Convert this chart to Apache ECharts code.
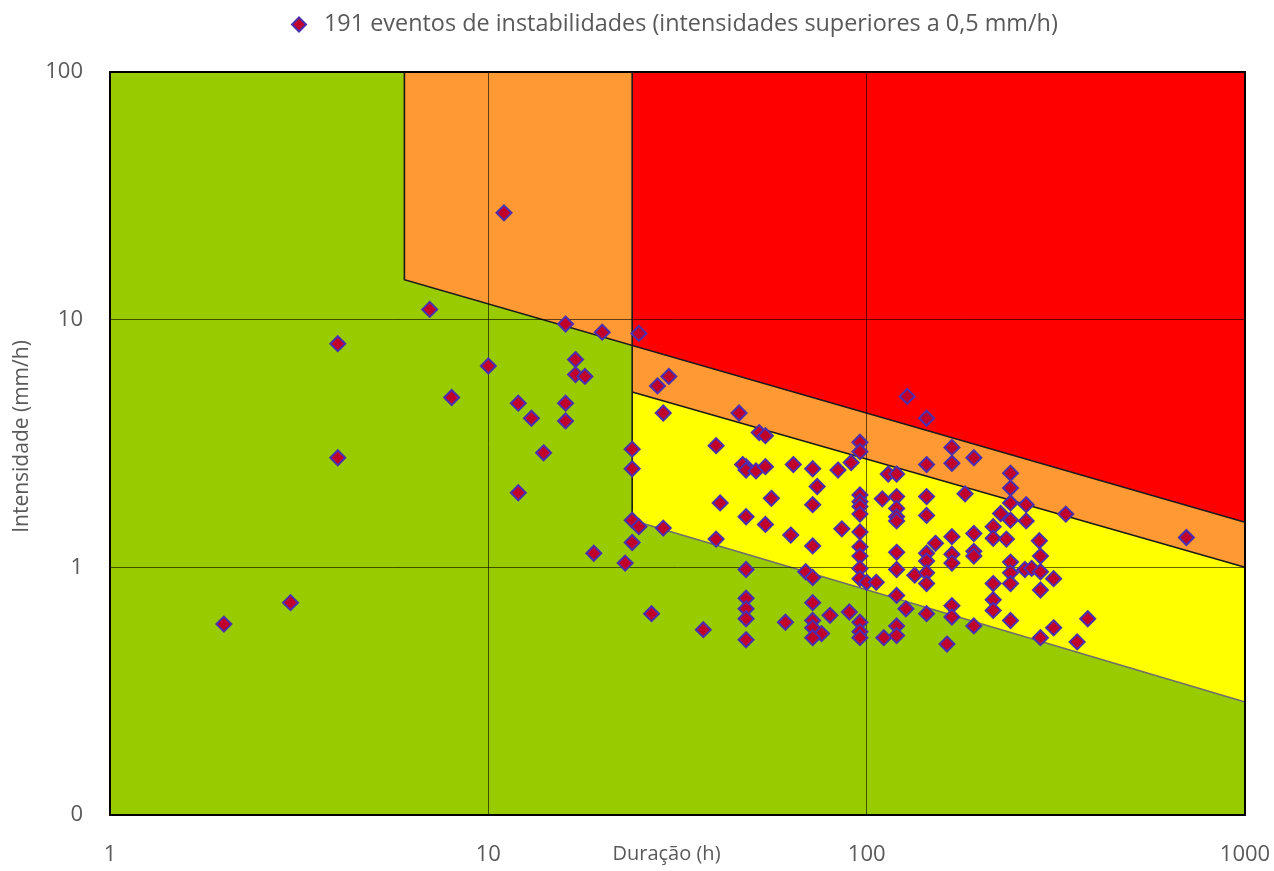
<!DOCTYPE html>
<html>
<head>
<meta charset="utf-8">
<script src="https://cdn.jsdelivr.net/npm/echarts@6/dist/echarts.min.js"></script>
<style>
html,body{margin:0;padding:0;background:#fff;}
#chart{width:1274px;height:871px;}
</style>
</head>
<body>
<div id="chart"></div>
<script>
// ---- Data ----
const seriesName = '191 eventos de instabilidades (intensidades superiores a 0,5 mm/h)';
const xAxisName = 'Duração (h)';
const yAxisName = 'Intensidade (mm/h)';
const xTickValues = [1, 10, 100, 1000];
const xTickLabels = ['1', '10', '100', '1000'];
const yTickValues = [0.1, 1, 10, 100];
const yTickLabels = ['0', '1', '10', '100'];

// duration (h)
const eventDuration = [
  2, 3, 4, 4, 7, 8, 10, 11, 16, 20, 25, 17, 17, 18, 12, 16, 13, 16, 14, 12,
  24, 24, 30, 28, 29, 24, 25, 29, 24, 19, 23, 41, 40, 27, 37, 46, 52, 54, 40, 48,
  47, 48, 51, 54, 64, 56, 48, 54, 63, 48, 48, 48, 48, 61, 48,
  128, 144, 96, 96, 91, 168, 168, 144, 72, 84, 114, 120, 74, 72, 96, 96, 96, 96, 110, 120,
  120, 120, 120, 144, 144, 86, 96, 96, 96, 168, 152, 72, 120, 144, 144, 168, 168, 96, 96, 120,
  69, 72, 100, 106, 134, 144, 144, 120, 72, 127, 144, 168, 168, 80, 90, 72, 72, 76, 72, 96,
  96, 96, 111, 120, 120, 163,
  192, 240, 240, 182, 240, 264, 226, 240, 264, 336, 216, 216, 192, 234, 286, 192, 192, 288, 240, 240,
  240, 262, 273, 288, 312, 216, 288, 216, 216, 240, 192, 312, 384, 288, 360, 700
];
// intensity (mm/h)
const eventIntensity = [
  0.59, 0.72, 8.0, 2.77, 11.0, 4.85, 6.5, 27, 9.6, 8.9, 8.8, 6.9, 6.0, 5.9, 4.6, 4.6, 4.0, 3.9, 2.9, 2.0,
  3.0, 2.5, 5.9, 5.4, 4.2, 1.55, 1.46, 1.44, 1.26, 1.14, 1.04, 1.82, 1.3, 0.65, 0.56, 4.2, 3.5, 3.4, 3.1, 2.55,
  2.6, 2.47, 2.45, 2.55, 2.6, 1.9, 1.6, 1.49, 1.35, 0.98, 0.75, 0.68, 0.62, 0.6, 0.51,
  4.9, 4.0, 3.2, 2.93, 2.65, 3.05, 2.63, 2.6, 2.5, 2.47, 2.38, 2.38, 2.12, 1.79, 1.96, 1.84, 1.76, 1.64, 1.89, 1.93,
  1.73, 1.6, 1.54, 1.93, 1.62, 1.43, 1.39, 1.21, 1.11, 1.33, 1.25, 1.22, 1.15, 1.14, 1.06, 1.13, 1.04, 0.99, 0.9, 0.98,
  0.96, 0.91, 0.87, 0.87, 0.93, 0.95, 0.86, 0.77, 0.72, 0.68, 0.65, 0.7, 0.63, 0.64, 0.66, 0.61, 0.57, 0.54, 0.52, 0.6,
  0.55, 0.52, 0.52, 0.58, 0.53, 0.49,
  2.77, 2.4, 2.09, 1.98, 1.82, 1.79, 1.65, 1.55, 1.54, 1.64, 1.46, 1.31, 1.37, 1.3, 1.28, 1.16, 1.11, 1.11, 1.05, 0.95,
  0.86, 0.98, 0.99, 0.96, 0.9, 0.86, 0.81, 0.74, 0.67, 0.61, 0.58, 0.57, 0.62, 0.52, 0.5, 1.32
];

// threshold zones (duration, intensity)
const orangeZone = [[6, 100], [1000, 100], [1000, 1.0], [24, 5.1], [24, 7.85], [6, 14.5]];
const redZone = [[24, 100], [1000, 100], [1000, 1.52], [24, 7.85]];
const yellowZone = [[24, 5.1], [1000, 1.0], [1000, 0.286], [24, 1.55]];
const blackBoundaries = [
  [[6, 100], [6, 14.5], [1000, 1.52]],
  [[24, 100], [24, 1.55]],
  [[24, 5.1], [1000, 1.0]]
];
const grayBoundary = [[24, 1.55], [1000, 0.286]];

// ---- Chart ----
const FONT = 'Open Sans';
const TXT = '#595959';
const points = eventDuration.map((d, i) => [d, eventIntensity[i]]);

function zoneSeries(verts, fill, z) {
  return {
    type: 'custom', z: z, silent: true, clip: true,
    data: verts,
    renderItem: function (params, api) {
      if (params.dataIndex !== 0) return null;
      const pts = verts.map(v => api.coord(v));
      return { type: 'polygon', shape: { points: pts }, style: { fill: fill, stroke: null } };
    }
  };
}
function lineSeries(paths, color, width, z) {
  const flat = [].concat(...paths);
  return {
    type: 'custom', z: z, silent: true, clip: false,
    data: flat,
    renderItem: function (params, api) {
      if (params.dataIndex !== 0) return null;
      return {
        type: 'group',
        children: paths.map(p => ({
          type: 'polyline',
          shape: { points: p.map(v => api.coord(v)) },
          style: { stroke: color, lineWidth: width, fill: null }
        }))
      };
    }
  };
}
function labelFrom(values, labels) {
  return function (v) {
    const i = values.findIndex(t => Math.abs(t - v) / t < 1e-6);
    return i >= 0 ? labels[i] : '';
  };
}

const chart = echarts.init(document.getElementById('chart'), null, { renderer: 'canvas' });
const gridLine = { show: true, lineStyle: { color: 'rgba(0,0,0,0.6)', width: 1 } };
chart.setOption({
  animation: false,
  textStyle: { fontFamily: FONT },
  legend: {
    data: [seriesName],
    top: 8, left: 286,
    icon: 'diamond', itemWidth: 14, itemHeight: 14, itemGap: 10,
    textStyle: { fontFamily: FONT, fontSize: 23.4, color: TXT, padding: [0, 0, 0, 13] }
  },
  grid: {
    left: 110, right: 29, top: 72, bottom: 56,
    outerBoundsMode: 'none', containLabel: false,
    show: true, backgroundColor: '#99CC00', borderWidth: 0
  },
  xAxis: [{
    type: 'log', logBase: 10, min: 1, max: 1000, z: 3,
    name: xAxisName, nameLocation: 'middle', nameGap: 29, nameMoveOverlap: false,
    nameTextStyle: { fontFamily: FONT, fontSize: 20, color: TXT, verticalAlign: 'top', padding: [0, 22, 0, 0] },
    axisLine: { show: true, lineStyle: { color: '#000', width: 2 } },
    axisTick: { show: false },
    axisLabel: { margin: 29, fontFamily: FONT, fontSize: 22, color: TXT, formatter: labelFrom(xTickValues, xTickLabels) },
    splitLine: gridLine
  }, {
    type: 'log', logBase: 10, min: 1, max: 1000, z: 3, position: 'top',
    axisLine: { show: true, lineStyle: { color: '#000', width: 2 } },
    axisTick: { show: false }, axisLabel: { show: false }, splitLine: { show: false }
  }],
  yAxis: [{
    type: 'log', logBase: 10, min: 0.1, max: 100, z: 3,
    name: yAxisName, nameLocation: 'middle', nameGap: 77, nameRotate: 90, nameMoveOverlap: false,
    nameTextStyle: { fontFamily: FONT, fontSize: 21, color: TXT, padding: [0, 0, 0, 14] },
    axisLine: { show: true, lineStyle: { color: '#000', width: 2 } },
    axisTick: { show: false },
    axisLabel: { margin: 27, fontFamily: FONT, fontSize: 22, color: TXT, formatter: labelFrom(yTickValues, yTickLabels) },
    splitLine: gridLine
  }, {
    type: 'log', logBase: 10, min: 0.1, max: 100, z: 3, position: 'right',
    axisLine: { show: true, lineStyle: { color: '#000', width: 2 } },
    axisTick: { show: false }, axisLabel: { show: false }, splitLine: { show: false }
  }],
  series: [
    zoneSeries(orangeZone, '#FF9933', 1),
    zoneSeries(redZone, '#FF0000', 1.1),
    zoneSeries(yellowZone, '#FFFF00', 1.2),
    lineSeries(blackBoundaries, '#1a1a1a', 1.6, 1.5),
    lineSeries([grayBoundary], '#6e6e6e', 1.6, 1.5),
    {
      name: seriesName, type: 'scatter', z: 5,
      symbol: 'diamond', symbolSize: 15,
      itemStyle: { color: '#C0002A', borderColor: '#4A30B0', borderWidth: 2, opacity: 1 },
      data: points
    }
  ]
});
</script>
</body>
</html>
